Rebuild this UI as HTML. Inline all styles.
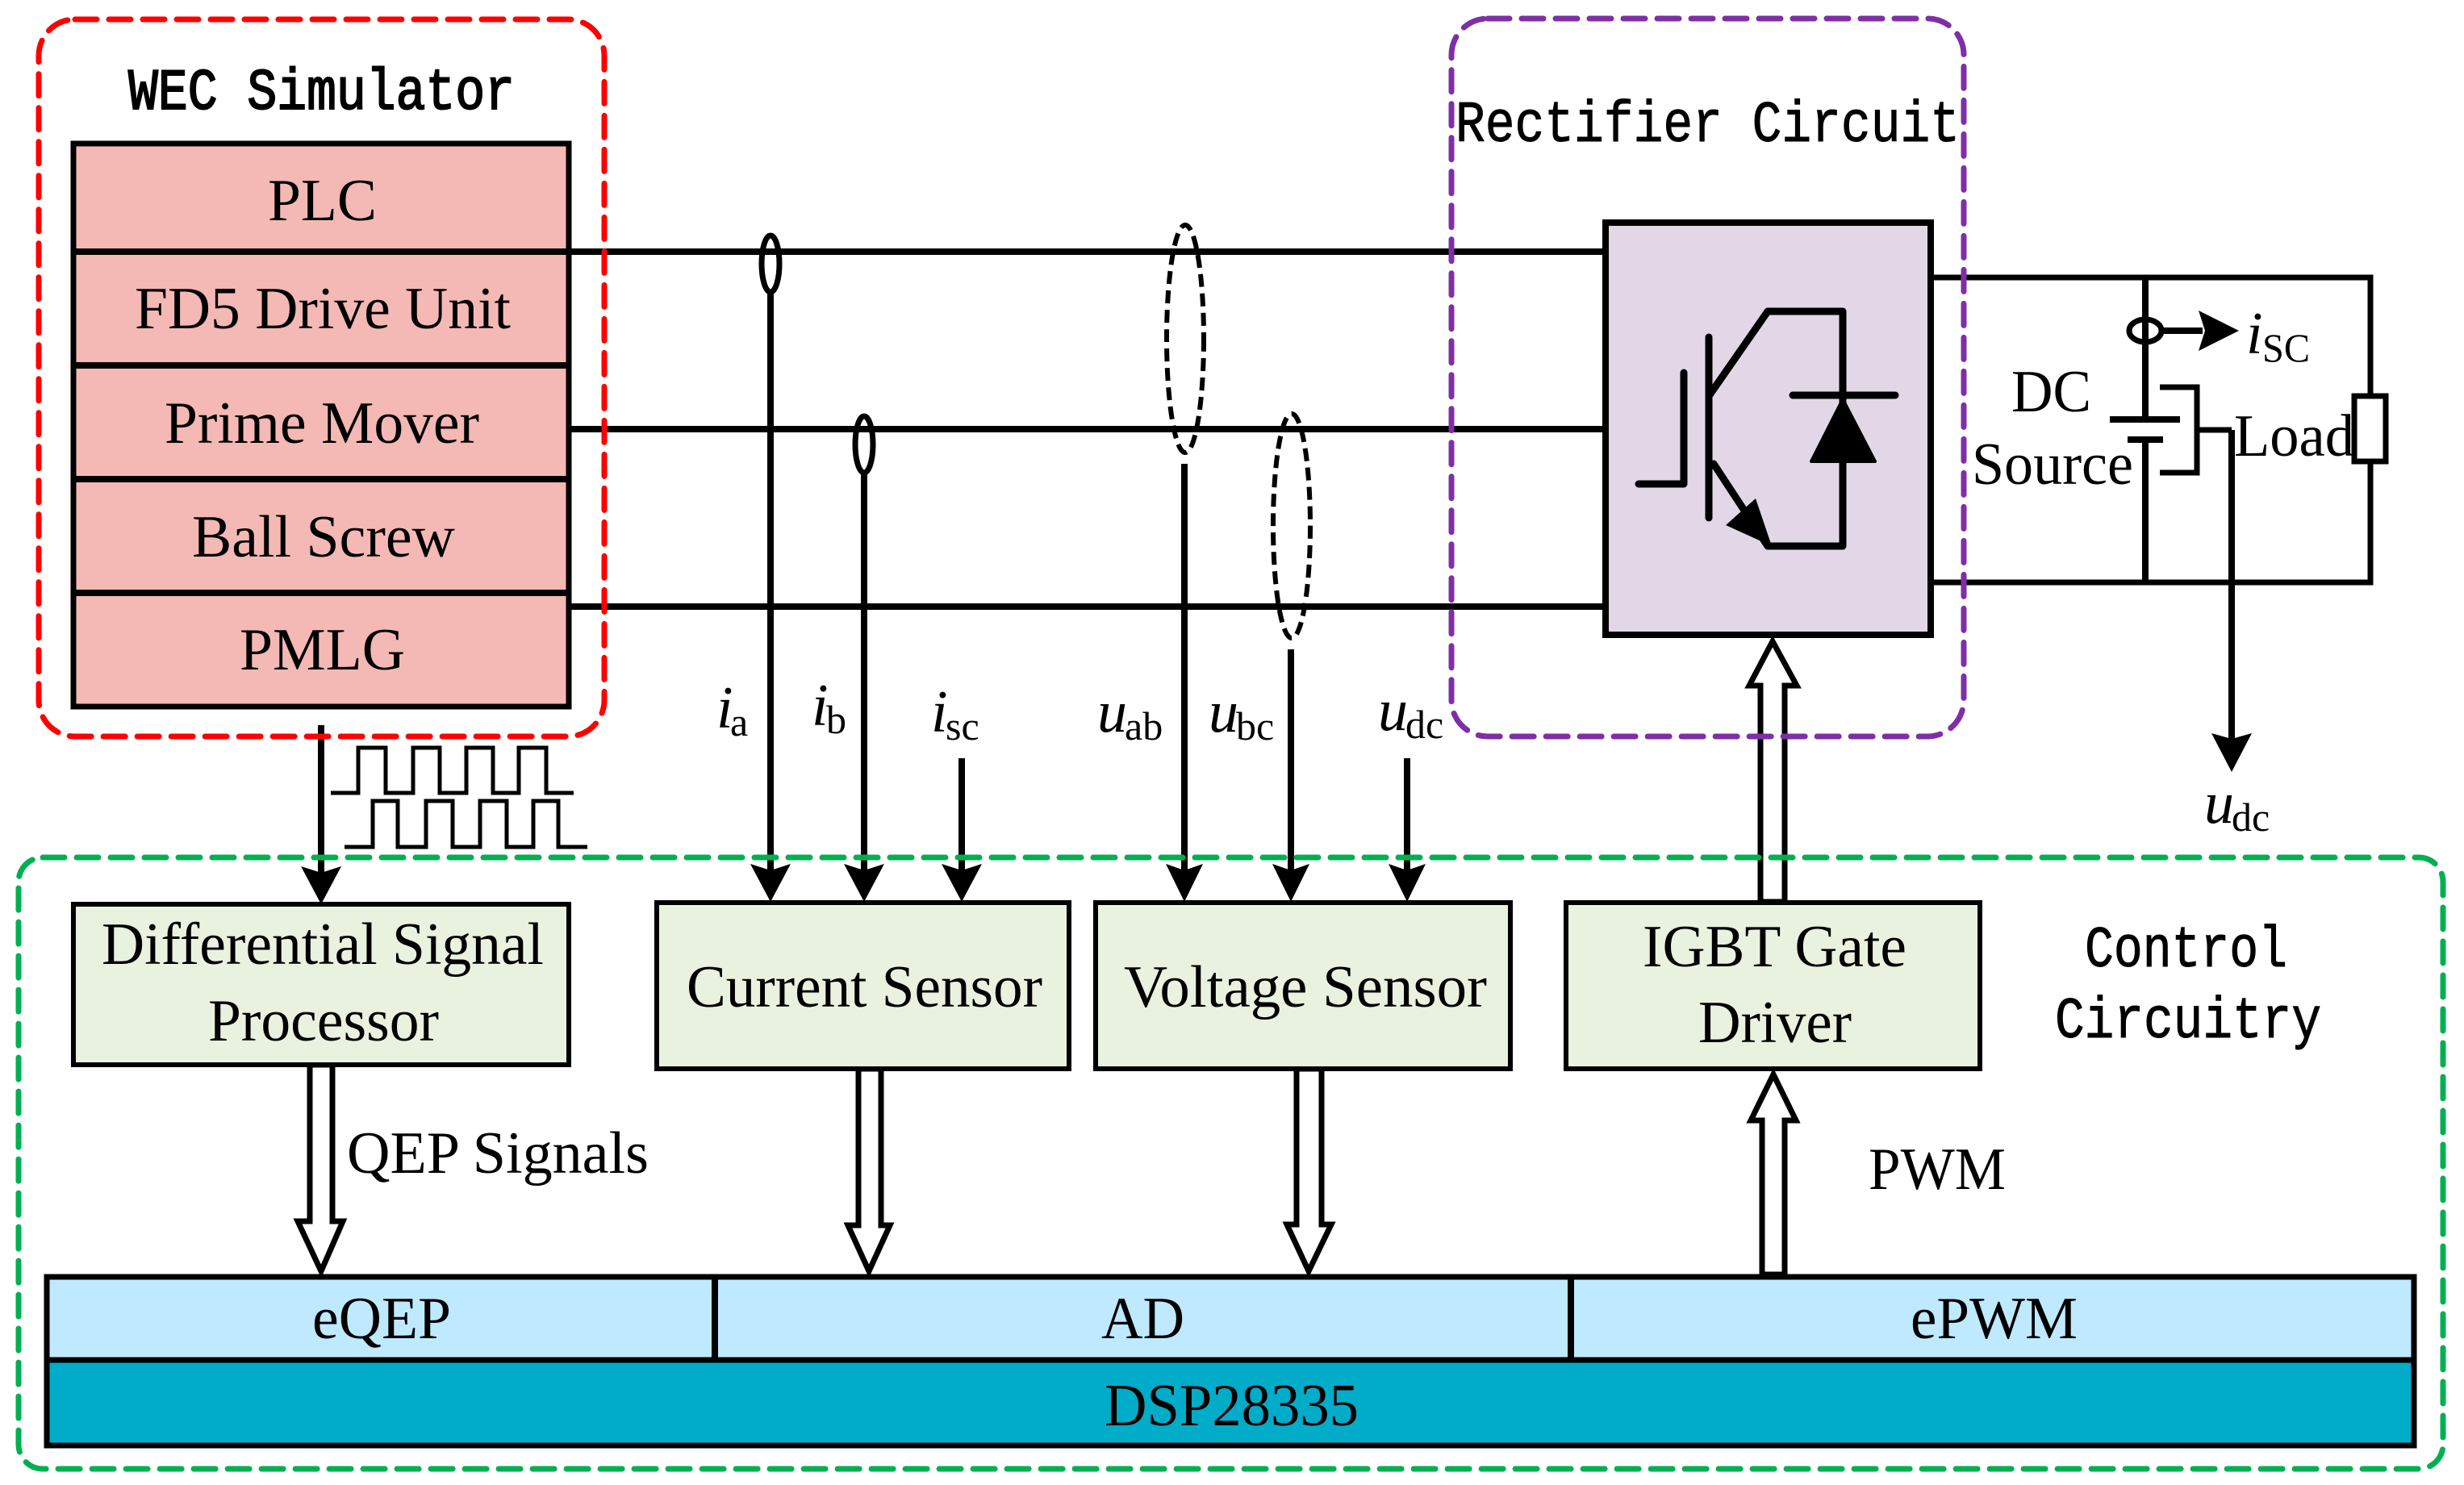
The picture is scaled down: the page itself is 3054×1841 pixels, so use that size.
<!DOCTYPE html>
<html><head><meta charset="utf-8"><style>
html,body{margin:0;padding:0;background:#fff}
svg{display:block}
text{font-family:"Liberation Serif",serif;fill:#000;font-size:74px}
.m{font-family:"Liberation Mono",monospace;font-size:72px;stroke:#000;stroke-width:1}
.s{font-size:50px}
.i{font-style:italic}
.l{fill:none;stroke:#000;stroke-width:8}
</style></head><body>
<svg xmlns="http://www.w3.org/2000/svg" width="3054" height="1841" viewBox="0 0 3054 1841">
<rect width="3054" height="1841" fill="#fff"/>
<!-- WEC stack -->
<rect x="91" y="178" width="614" height="698" fill="#F4B9B5" stroke="#000" stroke-width="7"/>
<path class="l" stroke-width="7" d="M91 312H705M91 453H705M91 594H705M91 735H705"/>
<!-- three-phase wires -->
<path class="l" d="M705 312H1990M705 532H1990M705 752H1990"/>
<!-- sensors on wires -->
<g fill="none" stroke="#000" stroke-width="7">
<ellipse cx="955" cy="327" rx="11" ry="35"/>
<ellipse cx="1071" cy="551" rx="11" ry="35"/>
</g>
<g fill="none" stroke="#000" stroke-width="6" stroke-dasharray="16 8">
<ellipse cx="1469" cy="420" rx="23" ry="141"/>
<ellipse cx="1601" cy="652" rx="23" ry="139"/>
</g>
<path class="l" d="M955 362V1085M1071 586V1085M1468 575V1085M1600 805V1085M1192 940V1085M1744 940V1085M398 899V1085"/>
<g fill="#000">
<polygon points="373,1074 398,1121 423,1074 398,1082"/>
<polygon points="930,1071 955,1118 980,1071 955,1079"/>
<polygon points="1046,1071 1071,1118 1096,1071 1071,1079"/>
<polygon points="1167,1071 1192,1118 1217,1071 1192,1079"/>
<polygon points="1445,1071 1468,1118 1491,1071 1468,1079"/>
<polygon points="1577,1071 1600,1118 1623,1071 1600,1079"/>
<polygon points="1721,1071 1744,1118 1767,1071 1744,1079"/>
</g>
<!-- pulses -->
<path fill="none" stroke="#000" stroke-width="5" d="M410 983H444V927H478V983H512V927H545V983H578V927H611V983H643V927H677V983H711"/>
<path fill="none" stroke="#000" stroke-width="5" d="M427 1050H462V993H493V1050H528V993H561V1050H595V993H628V1050H661V993H692V1050H728"/>
<!-- rectifier -->
<rect x="1990" y="276" width="403" height="511" fill="#E2D7E7" stroke="#000" stroke-width="8"/>
<g fill="none" stroke="#000" stroke-width="9" stroke-linecap="round" stroke-linejoin="round">
<path d="M2031 600H2087V462"/>
<path d="M2118 418V642"/>
<path d="M2118 491L2191 386H2284V677H2191L2124 575"/>
<path d="M2222 490H2349"/>
</g>
<polygon points="2284,495 2245,572 2324,572" fill="#000" stroke="#000" stroke-width="4" stroke-linejoin="round"/>
<polygon points="2196,677 2139,651 2176,618" fill="#000"/>
<!-- DC side -->
<g fill="none" stroke="#000" stroke-width="7">
<path d="M2393 344H2938V491M2938 572V722H2393"/>
<path stroke-width="8" d="M2659 344V520M2615 520H2702M2637 545H2681M2659 545V722"/>
<path d="M2677 480H2723V586H2677M2723 533H2766"/>
<ellipse cx="2659" cy="410" rx="20" ry="14"/>
<path stroke-width="8" d="M2679 410H2730"/>
<path stroke-width="8" d="M2766 533V925"/>
</g>
<rect x="2918" y="491" width="39" height="81" fill="#fff" stroke="#000" stroke-width="7"/>
<polygon points="2725,385 2775,410 2725,435 2733,410" fill="#000"/>
<polygon points="2741,909 2766,957 2791,909 2766,916" fill="#000"/>
<!-- hollow arrows -->
<g fill="#fff" stroke="#000" stroke-width="7" stroke-linejoin="miter">
<polygon points="2182,1118 2182,850 2168,850 2197,795 2227,850 2212,850 2212,1118"/>
<polygon points="384,1320 384,1514 369,1514 398,1576 425,1514 412,1514 412,1320"/>
<polygon points="1064,1325 1064,1519 1051,1519 1077,1576 1103,1519 1092,1519 1092,1325"/>
<polygon points="1607,1325 1607,1518 1595,1518 1622,1576 1650,1518 1638,1518 1638,1325"/>
<polygon points="2184,1580 2184,1389 2170,1389 2198,1332 2226,1389 2212,1389 2212,1580"/>
</g>
<!-- sensor boxes -->
<g fill="#E9F1DF" stroke="#000" stroke-width="6">
<rect x="91" y="1121" width="614" height="199"/>
<rect x="814" y="1119" width="511" height="206"/>
<rect x="1358" y="1119" width="514" height="206"/>
<rect x="1941" y="1119" width="513" height="206"/>
</g>
<!-- DSP -->
<rect x="58" y="1586" width="2934" height="206" fill="#00ACC8" stroke="#000" stroke-width="7"/>
<rect x="58" y="1583" width="2934" height="103" fill="#BFE9FF" stroke="#000" stroke-width="7"/>
<path class="l" stroke-width="5" d="M886 1583V1686M1947 1583V1686"/>
<!-- dashed regions -->
<g fill="none" stroke-width="7" stroke-dasharray="27 15" stroke-linecap="round">
<rect x="48" y="24" width="701" height="889" rx="45" stroke="#FF0000"/>
<rect x="1799" y="23" width="635" height="890" rx="45" stroke="#7F2FA5"/>
<rect x="23" y="1063" width="3005" height="758" rx="30" stroke="#00B050"/>
</g>
<!-- labels -->
<text class="m" x="159" y="135" textLength="479" lengthAdjust="spacingAndGlyphs" style="stroke-width:2">WEC Simulator</text>
<text class="m" x="1804" y="175" textLength="625" lengthAdjust="spacingAndGlyphs">Rectifier Circuit</text>
<text class="m" x="2584" y="1198" textLength="251" lengthAdjust="spacingAndGlyphs">Control</text>
<text class="m" x="2547" y="1286" textLength="330" lengthAdjust="spacingAndGlyphs">Circuitry</text>
<text x="332" y="273" textLength="135" lengthAdjust="spacingAndGlyphs">PLC</text>
<text x="167" y="407" textLength="466" lengthAdjust="spacingAndGlyphs">FD5 Drive Unit</text>
<text x="204" y="549" textLength="390" lengthAdjust="spacingAndGlyphs">Prime Mover</text>
<text x="238" y="690" textLength="326" lengthAdjust="spacingAndGlyphs">Ball Screw</text>
<text x="297" y="830" textLength="205" lengthAdjust="spacingAndGlyphs">PMLG</text>
<text x="126" y="1195" textLength="548" lengthAdjust="spacingAndGlyphs">Differential Signal</text>
<text x="258" y="1290" textLength="286" lengthAdjust="spacingAndGlyphs">Processor</text>
<text x="851" y="1248" textLength="441" lengthAdjust="spacingAndGlyphs">Current Sensor</text>
<text x="1393" y="1248" textLength="450" lengthAdjust="spacingAndGlyphs">Voltage Sensor</text>
<text x="2036" y="1198" textLength="327" lengthAdjust="spacingAndGlyphs">IGBT Gate</text>
<text x="2105" y="1292" textLength="190" lengthAdjust="spacingAndGlyphs">Driver</text>
<text x="430" y="1454" textLength="374" lengthAdjust="spacingAndGlyphs">QEP Signals</text>
<text x="2316" y="1474" textLength="170" lengthAdjust="spacingAndGlyphs">PWM</text>
<text x="387" y="1659" textLength="172" lengthAdjust="spacingAndGlyphs">eQEP</text>
<text x="1365" y="1659" textLength="103" lengthAdjust="spacingAndGlyphs">AD</text>
<text x="2368" y="1659" textLength="207" lengthAdjust="spacingAndGlyphs">ePWM</text>
<text x="1369" y="1767" textLength="315" lengthAdjust="spacingAndGlyphs">DSP28335</text>
<text x="2493" y="510" textLength="99" lengthAdjust="spacingAndGlyphs">DC</text>
<text x="2444" y="600" textLength="200" lengthAdjust="spacingAndGlyphs">Source</text>
<text x="2769" y="565" textLength="149" lengthAdjust="spacingAndGlyphs">Load</text>
<text class="i" x="888" y="902">i</text><text class="s" x="905" y="912">a</text>
<text class="i" x="1006" y="899">i</text><text class="s" x="1024" y="909">b</text>
<text class="i" x="1154" y="907">i</text><text class="s" x="1172" y="917">sc</text>
<text class="i" x="1360" y="907">u</text><text class="s" x="1394" y="917">ab</text>
<text class="i" x="1498" y="907">u</text><text class="s" x="1532" y="917">bc</text>
<text class="i" x="1708" y="905">u</text><text class="s" x="1742" y="915">dc</text>
<text class="i" x="2732" y="1020">u</text><text class="s" x="2766" y="1030">dc</text>
<text class="i" x="2784" y="438">i</text><text class="s" x="2804" y="448" textLength="59" lengthAdjust="spacingAndGlyphs">SC</text>
</svg>
</body></html>
